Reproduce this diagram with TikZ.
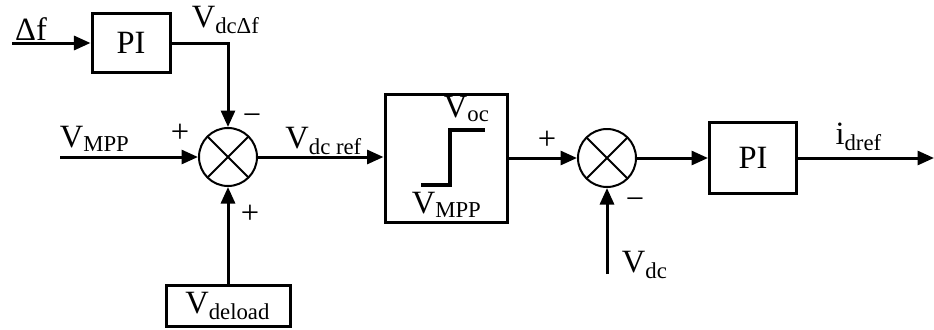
\documentclass[tikz,border=0pt]{standalone}
\usepackage{fontspec}
\setmainfont{Liberation Serif}
\usetikzlibrary{arrows.meta}
\tikzset{
  blk/.style={draw,line width=1.2pt,inner sep=0pt},
  sumnode/.style={circle,draw,line width=0.8pt,minimum size=23.2pt,inner sep=0pt,
    path picture={\draw[line width=0.8pt] (path picture bounding box.north west) -- (path picture bounding box.south east)
      (path picture bounding box.north east) -- (path picture bounding box.south west);}},
  sig/.style={line width=1.2pt,-{Triangle[length=6.6pt,width=5.6pt]}},
  lbl/.style={inner sep=0pt},
}
\newcommand{\Sig}[2]{#1\textsubscript{#2}}
\begin{document}
\begin{tikzpicture}[x=0.4pt,y=0.4pt,font=\fontsize{13}{15}\selectfont]
\useasboundingbox (0,0) rectangle (934,329);
% blocks
\node[blk,minimum width=31.2pt,minimum height=23.6pt] (piA) at (131,286) {PI};
\node[sumnode] (sumA) at (228,172) {};
\node[blk,minimum width=49.6pt,minimum height=16.4pt] (deload) at (228,23) {\Sig{V}{deload}};
\node[blk,minimum width=48.8pt,minimum height=51.2pt] (lim) at (446,171) {};
\node[sumnode] (sumB) at (607,171) {};
\node[blk,minimum width=34.8pt,minimum height=28.4pt] (piB) at (753,171) {PI};
% free ends
\coordinate (fin) at (12,286);
\coordinate (vin) at (60,172);
\coordinate (bend) at (228,286);
\coordinate (vdcin) at (607,55);
\coordinate (iout) at (934,171);
% connectors
\draw[sig] (fin) -- (piA);
\draw[sig] (piA.east) -- (bend) -- (sumA);
\draw[sig] (vin) -- (sumA);
\draw[sig] (deload) -- (sumA);
\draw[sig] (sumA) -- (lim.west |- sumA);
\draw[sig] (lim.east |- sumB) -- (sumB);
\draw[sig] (vdcin) -- (sumB);
\draw[sig] (sumB) -- (piB);
\draw[sig] (piB) -- (iout);
% limiter curve
\draw[line width=1.6pt] (421,144) -- (450,144) -- (450,199) -- (485,199);
% labels
\node[lbl] (tdf) at (31,300) {Δf};
\node[lbl] (tvdf) at (226,309) {\Sig{V}{dcΔf}};
\node[lbl] (tvmpp) at (95,190) {\Sig{V}{MPP}};
\node[lbl] (tvref) at (324,188) {\Sig{V}{dc ref}};
\node[lbl] (tvoc) at (467,220) {\Sig{V}{oc}};
\node[lbl] (tvmin) at (447,124) {\Sig{V}{MPP}};
\node[lbl] (tvdc) at (645,64) {\Sig{V}{dc}};
\node[lbl] (tid) at (859,192) {i\textsubscript{dref}};
% signs
\node[lbl] (sA1) at (180,196) {+};
\node[lbl] (sA2) at (252,209) {−};
\node[lbl] (sA3) at (250,115) {+};
\node[lbl] (sB1) at (547,189) {+};
\node[lbl] (sB2) at (635,125) {−};
\end{tikzpicture}
\end{document}
